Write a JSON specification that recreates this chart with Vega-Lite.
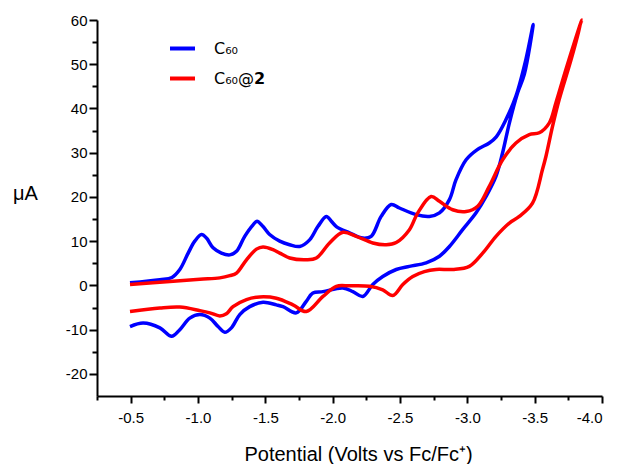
{
  "$schema": "https://vega.github.io/schema/vega-lite/v6.json",
  "width": 505,
  "height": 376,
  "autosize": {"type": "none"},
  "padding": {"left": 97, "top": 20, "right": 18, "bottom": 68},
  "background": "white",
  "config": {"view": {"stroke": null}, "font": "Liberation Sans"},
  "data": {"values": [
    {"s":"C₆₀","i":1,"v":-0.495,"a":0.6},
    {"s":"C₆₀","i":2,"v":-0.717,"a":1.3},
    {"s":"C₆₀","i":3,"v":-0.806,"a":1.8},
    {"s":"C₆₀","i":4,"v":-0.865,"a":3.6},
    {"s":"C₆₀","i":5,"v":-0.927,"a":7.3},
    {"s":"C₆₀","i":6,"v":-0.976,"a":10.0},
    {"s":"C₆₀","i":7,"v":-1.026,"a":11.5},
    {"s":"C₆₀","i":8,"v":-1.063,"a":10.7},
    {"s":"C₆₀","i":9,"v":-1.112,"a":8.5},
    {"s":"C₆₀","i":10,"v":-1.174,"a":7.3},
    {"s":"C₆₀","i":11,"v":-1.236,"a":6.9},
    {"s":"C₆₀","i":12,"v":-1.286,"a":7.7},
    {"s":"C₆₀","i":13,"v":-1.347,"a":11.1},
    {"s":"C₆₀","i":14,"v":-1.409,"a":13.7},
    {"s":"C₆₀","i":15,"v":-1.438,"a":14.5},
    {"s":"C₆₀","i":16,"v":-1.483,"a":13.3},
    {"s":"C₆₀","i":17,"v":-1.532,"a":11.5},
    {"s":"C₆₀","i":18,"v":-1.607,"a":10.0},
    {"s":"C₆₀","i":19,"v":-1.680,"a":9.2},
    {"s":"C₆₀","i":20,"v":-1.755,"a":8.8},
    {"s":"C₆₀","i":21,"v":-1.829,"a":10.3},
    {"s":"C₆₀","i":22,"v":-1.890,"a":13.3},
    {"s":"C₆₀","i":23,"v":-1.953,"a":15.6},
    {"s":"C₆₀","i":24,"v":-1.990,"a":14.5},
    {"s":"C₆₀","i":25,"v":-2.027,"a":13.3},
    {"s":"C₆₀","i":26,"v":-2.125,"a":11.9},
    {"s":"C₆₀","i":27,"v":-2.224,"a":10.7},
    {"s":"C₆₀","i":28,"v":-2.286,"a":11.1},
    {"s":"C₆₀","i":29,"v":-2.360,"a":15.6},
    {"s":"C₆₀","i":30,"v":-2.435,"a":18.3},
    {"s":"C₆₀","i":31,"v":-2.496,"a":17.5},
    {"s":"C₆₀","i":32,"v":-2.620,"a":16.0},
    {"s":"C₆₀","i":33,"v":-2.718,"a":15.6},
    {"s":"C₆₀","i":34,"v":-2.793,"a":16.4},
    {"s":"C₆₀","i":35,"v":-2.867,"a":19.4},
    {"s":"C₆₀","i":36,"v":-2.916,"a":23.9},
    {"s":"C₆₀","i":37,"v":-2.991,"a":28.4},
    {"s":"C₆₀","i":38,"v":-3.074,"a":30.7},
    {"s":"C₆₀","i":39,"v":-3.163,"a":32.2},
    {"s":"C₆₀","i":40,"v":-3.215,"a":33.6},
    {"s":"C₆₀","i":41,"v":-3.287,"a":37.5},
    {"s":"C₆₀","i":42,"v":-3.361,"a":42.8},
    {"s":"C₆₀","i":43,"v":-3.435,"a":51.1},
    {"s":"C₆₀","i":44,"v":-3.489,"a":59.0},
    {"s":"C₆₀","i":45,"v":-3.423,"a":47.7},
    {"s":"C₆₀","i":46,"v":-3.373,"a":43.5},
    {"s":"C₆₀","i":47,"v":-3.312,"a":36.7},
    {"s":"C₆₀","i":48,"v":-3.262,"a":30.0},
    {"s":"C₆₀","i":49,"v":-3.213,"a":24.7},
    {"s":"C₆₀","i":50,"v":-3.139,"a":20.1},
    {"s":"C₆₀","i":51,"v":-3.065,"a":16.4},
    {"s":"C₆₀","i":52,"v":-2.965,"a":12.6},
    {"s":"C₆₀","i":53,"v":-2.867,"a":8.8},
    {"s":"C₆₀","i":54,"v":-2.793,"a":6.6},
    {"s":"C₆₀","i":55,"v":-2.694,"a":5.1},
    {"s":"C₆₀","i":56,"v":-2.570,"a":4.3},
    {"s":"C₆₀","i":57,"v":-2.472,"a":3.6},
    {"s":"C₆₀","i":58,"v":-2.372,"a":2.0},
    {"s":"C₆₀","i":59,"v":-2.298,"a":0.2},
    {"s":"C₆₀","i":60,"v":-2.224,"a":-2.5},
    {"s":"C₆₀","i":61,"v":-2.150,"a":-1.4},
    {"s":"C₆₀","i":62,"v":-2.076,"a":-0.6},
    {"s":"C₆₀","i":63,"v":-1.928,"a":-1.4},
    {"s":"C₆₀","i":64,"v":-1.853,"a":-1.7},
    {"s":"C₆₀","i":65,"v":-1.804,"a":-3.6},
    {"s":"C₆₀","i":66,"v":-1.730,"a":-6.2},
    {"s":"C₆₀","i":67,"v":-1.631,"a":-4.8},
    {"s":"C₆₀","i":68,"v":-1.582,"a":-4.4},
    {"s":"C₆₀","i":69,"v":-1.483,"a":-3.8},
    {"s":"C₆₀","i":70,"v":-1.384,"a":-4.8},
    {"s":"C₆₀","i":71,"v":-1.310,"a":-6.6},
    {"s":"C₆₀","i":72,"v":-1.248,"a":-9.6},
    {"s":"C₆₀","i":73,"v":-1.199,"a":-10.6},
    {"s":"C₆₀","i":74,"v":-1.149,"a":-9.3},
    {"s":"C₆₀","i":75,"v":-1.088,"a":-7.4},
    {"s":"C₆₀","i":76,"v":-1.014,"a":-6.6},
    {"s":"C₆₀","i":77,"v":-0.939,"a":-7.4},
    {"s":"C₆₀","i":78,"v":-0.865,"a":-10.0},
    {"s":"C₆₀","i":79,"v":-0.804,"a":-11.5},
    {"s":"C₆₀","i":80,"v":-0.717,"a":-9.6},
    {"s":"C₆₀","i":81,"v":-0.593,"a":-8.5},
    {"s":"C₆₀","i":82,"v":-0.495,"a":-9.3},
    {"s":"C₆₀@𝟮","i":1,"v":-0.495,"a":0.2},
    {"s":"C₆₀@𝟮","i":2,"v":-0.791,"a":0.9},
    {"s":"C₆₀@𝟮","i":3,"v":-1.014,"a":1.4},
    {"s":"C₆₀@𝟮","i":4,"v":-1.162,"a":1.7},
    {"s":"C₆₀@𝟮","i":5,"v":-1.236,"a":2.2},
    {"s":"C₆₀@𝟮","i":6,"v":-1.286,"a":2.8},
    {"s":"C₆₀@𝟮","i":7,"v":-1.360,"a":5.8},
    {"s":"C₆₀@𝟮","i":8,"v":-1.434,"a":8.2},
    {"s":"C₆₀@𝟮","i":9,"v":-1.483,"a":8.7},
    {"s":"C₆₀@𝟮","i":10,"v":-1.557,"a":8.1},
    {"s":"C₆₀@𝟮","i":11,"v":-1.607,"a":7.3},
    {"s":"C₆₀@𝟮","i":12,"v":-1.681,"a":6.2},
    {"s":"C₆₀@𝟮","i":13,"v":-1.804,"a":5.8},
    {"s":"C₆₀@𝟮","i":14,"v":-1.879,"a":6.2},
    {"s":"C₆₀@𝟮","i":15,"v":-1.977,"a":9.6},
    {"s":"C₆₀@𝟮","i":16,"v":-2.076,"a":12.0},
    {"s":"C₆₀@𝟮","i":17,"v":-2.175,"a":11.1},
    {"s":"C₆₀@𝟮","i":18,"v":-2.298,"a":9.6},
    {"s":"C₆₀@𝟮","i":19,"v":-2.398,"a":9.2},
    {"s":"C₆₀@𝟮","i":20,"v":-2.472,"a":9.7},
    {"s":"C₆₀@𝟮","i":21,"v":-2.570,"a":12.6},
    {"s":"C₆₀@𝟮","i":22,"v":-2.632,"a":16.4},
    {"s":"C₆₀@𝟮","i":23,"v":-2.731,"a":20.1},
    {"s":"C₆₀@𝟮","i":24,"v":-2.793,"a":19.0},
    {"s":"C₆₀@𝟮","i":25,"v":-2.891,"a":17.1},
    {"s":"C₆₀@𝟮","i":26,"v":-2.991,"a":16.7},
    {"s":"C₆₀@𝟮","i":27,"v":-3.077,"a":17.9},
    {"s":"C₆₀@𝟮","i":28,"v":-3.163,"a":22.4},
    {"s":"C₆₀@𝟮","i":29,"v":-3.262,"a":28.4},
    {"s":"C₆₀@𝟮","i":30,"v":-3.361,"a":32.2},
    {"s":"C₆₀@𝟮","i":31,"v":-3.460,"a":34.1},
    {"s":"C₆₀@𝟮","i":32,"v":-3.534,"a":34.5},
    {"s":"C₆₀@𝟮","i":33,"v":-3.608,"a":36.7},
    {"s":"C₆₀@𝟮","i":34,"v":-3.658,"a":41.3},
    {"s":"C₆₀@𝟮","i":35,"v":-3.732,"a":48.8},
    {"s":"C₆₀@𝟮","i":36,"v":-3.850,"a":60.0},
    {"s":"C₆₀@𝟮","i":37,"v":-3.771,"a":51.1},
    {"s":"C₆₀@𝟮","i":38,"v":-3.682,"a":42.0},
    {"s":"C₆₀@𝟮","i":39,"v":-3.633,"a":36.0},
    {"s":"C₆₀@𝟮","i":40,"v":-3.584,"a":29.2},
    {"s":"C₆₀@𝟮","i":41,"v":-3.558,"a":26.2},
    {"s":"C₆₀@𝟮","i":42,"v":-3.484,"a":18.6},
    {"s":"C₆₀@𝟮","i":43,"v":-3.386,"a":15.6},
    {"s":"C₆₀@𝟮","i":44,"v":-3.312,"a":14.1},
    {"s":"C₆₀@𝟮","i":45,"v":-3.213,"a":11.1},
    {"s":"C₆₀@𝟮","i":46,"v":-3.114,"a":7.3},
    {"s":"C₆₀@𝟮","i":47,"v":-3.015,"a":4.3},
    {"s":"C₆₀@𝟮","i":48,"v":-2.891,"a":3.6},
    {"s":"C₆₀@𝟮","i":49,"v":-2.768,"a":3.6},
    {"s":"C₆₀@𝟮","i":50,"v":-2.681,"a":3.1},
    {"s":"C₆₀@𝟮","i":51,"v":-2.595,"a":2.0},
    {"s":"C₆₀@𝟮","i":52,"v":-2.521,"a":0.2},
    {"s":"C₆₀@𝟮","i":53,"v":-2.446,"a":-2.3},
    {"s":"C₆₀@𝟮","i":54,"v":-2.372,"a":-1.0},
    {"s":"C₆₀@𝟮","i":55,"v":-2.274,"a":-0.2},
    {"s":"C₆₀@𝟮","i":56,"v":-2.125,"a":-0.1},
    {"s":"C₆₀@𝟮","i":57,"v":-2.027,"a":-0.2},
    {"s":"C₆₀@𝟮","i":58,"v":-1.928,"a":-2.5},
    {"s":"C₆₀@𝟮","i":59,"v":-1.804,"a":-5.9},
    {"s":"C₆₀@𝟮","i":60,"v":-1.705,"a":-4.4},
    {"s":"C₆₀@𝟮","i":61,"v":-1.582,"a":-2.9},
    {"s":"C₆₀@𝟮","i":62,"v":-1.458,"a":-2.6},
    {"s":"C₆₀@𝟮","i":63,"v":-1.360,"a":-3.2},
    {"s":"C₆₀@𝟮","i":64,"v":-1.260,"a":-4.8},
    {"s":"C₆₀@𝟮","i":65,"v":-1.211,"a":-6.4},
    {"s":"C₆₀@𝟮","i":66,"v":-1.162,"a":-6.9},
    {"s":"C₆₀@𝟮","i":67,"v":-1.088,"a":-6.2},
    {"s":"C₆₀@𝟮","i":68,"v":-1.014,"a":-5.7},
    {"s":"C₆₀@𝟮","i":69,"v":-0.865,"a":-4.9},
    {"s":"C₆₀@𝟮","i":70,"v":-0.717,"a":-5.1},
    {"s":"C₆₀@𝟮","i":71,"v":-0.495,"a":-5.9}
  ]},
  "mark": {"type": "line", "strokeWidth": 3.5, "interpolate": "catmull-rom"},
  "encoding": {
    "x": {
      "field": "v", "type": "quantitative",
      "scale": {"domain": [-0.25, -4.0], "nice": false, "zero": false},
      "axis": {
        "values": [-0.25,-0.5,-0.75,-1.0,-1.25,-1.5,-1.75,-2.0,-2.25,-2.5,-2.75,-3.0,-3.25,-3.5,-3.75,-4.0],
        "labelExpr": "abs(datum.value*2 - round(datum.value*2)) < 0.001 ? '-' + format(abs(datum.value), '.1f') : ''",
        "grid": false,
        "domainColor": "black", "domainWidth": 2,
        "tickColor": "black", "tickWidth": 2,
        "tickSize": {"condition": {"test": "abs(datum.value*2 - round(datum.value*2)) < 0.001", "value": 7}, "value": 4},
        "labelFont": "Liberation Sans", "labelFontSize": 15, "labelColor": "black", "labelPadding": 7,
        "title": "Potential (Volts vs Fc/Fc⁺)",
        "titleFont": "Liberation Sans", "titleFontSize": 20, "titleFontWeight": "normal", "titleColor": "black",
        "titleBaseline": "alphabetic", "titleAnchor": "middle", "titleX": 261, "titleY": 64
      }
    },
    "y": {
      "field": "a", "type": "quantitative",
      "scale": {"domain": [-25, 60], "nice": false, "zero": false},
      "axis": {
        "values": [-20,-15,-10,-5,0,5,10,15,20,25,30,35,40,45,50,55,60],
        "labelExpr": "datum.value % 10 === 0 ? (datum.value < 0 ? '-' : '') + format(abs(datum.value), 'd') : ''",
        "grid": false,
        "domainColor": "black", "domainWidth": 2,
        "tickColor": "black", "tickWidth": 2,
        "tickSize": {"condition": {"test": "datum.value % 10 === 0", "value": 8}, "value": 5},
        "labelFont": "Liberation Sans", "labelFontSize": 15, "labelColor": "black", "labelPadding": 2,
        "title": "μA",
        "titleFont": "Liberation Sans", "titleFontSize": 20, "titleFontWeight": "normal", "titleColor": "black",
        "titleAngle": 0, "titleAlign": "center", "titleBaseline": "middle", "titleX": -72, "titleY": 173
      }
    },
    "color": {
      "field": "s", "type": "nominal",
      "scale": {"domain": ["C₆₀", "C₆₀@𝟮"], "range": ["#0000ff", "#ff0000"]},
      "legend": {
        "title": null, "orient": "none", "legendX": 71, "legendY": 14,
        "symbolType": "stroke", "symbolSize": 625, "symbolStrokeWidth": 4,
        "labelFont": "DejaVu Sans", "labelFontSize": 16, "labelColor": "black",
        "labelOffset": 17, "rowPadding": 7, "padding": 0
      }
    },
    "order": {"field": "i", "type": "quantitative"}
  }
}
